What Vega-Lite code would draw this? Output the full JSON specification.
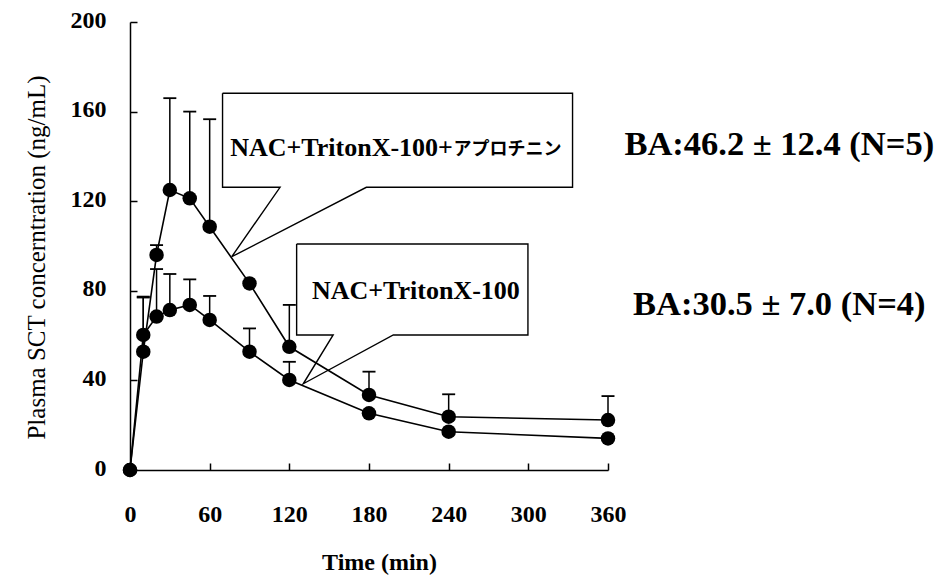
{
  "$schema": "https://vega.github.io/schema/vega-lite/v6.json",
  "width": 478,
  "height": 448,
  "autosize": "none",
  "padding": {"left": 130, "top": 22, "right": 332, "bottom": 108},
  "background": "white",
  "config": {"view": {"stroke": null}, "font": "Liberation Serif"},
  "datasets": {
    "pk": [
      {"series": "NAC+TritonX-100+Aprotinin", "t": 0, "v": 0, "top": null},
      {"series": "NAC+TritonX-100+Aprotinin", "t": 10, "v": 52.8, "top": 77},
      {"series": "NAC+TritonX-100+Aprotinin", "t": 20, "v": 96, "top": 100.4},
      {"series": "NAC+TritonX-100+Aprotinin", "t": 30, "v": 125, "top": 166},
      {"series": "NAC+TritonX-100+Aprotinin", "t": 45, "v": 121.3, "top": 160},
      {"series": "NAC+TritonX-100+Aprotinin", "t": 60, "v": 108.6, "top": 156.6},
      {"series": "NAC+TritonX-100+Aprotinin", "t": 90, "v": 83.3, "top": null},
      {"series": "NAC+TritonX-100+Aprotinin", "t": 120, "v": 55, "top": 73.7},
      {"series": "NAC+TritonX-100+Aprotinin", "t": 180, "v": 33.5, "top": 43.9},
      {"series": "NAC+TritonX-100+Aprotinin", "t": 240, "v": 23.8, "top": 33.8},
      {"series": "NAC+TritonX-100+Aprotinin", "t": 360, "v": 22.3, "top": 33},
      {"series": "NAC+TritonX-100", "t": 0, "v": 0, "top": null},
      {"series": "NAC+TritonX-100", "t": 10, "v": 60.3, "top": 77.4},
      {"series": "NAC+TritonX-100", "t": 20, "v": 68.5, "top": 89.7},
      {"series": "NAC+TritonX-100", "t": 30, "v": 71.4, "top": 87.5},
      {"series": "NAC+TritonX-100", "t": 45, "v": 73.7, "top": 85.1},
      {"series": "NAC+TritonX-100", "t": 60, "v": 67, "top": 77.7},
      {"series": "NAC+TritonX-100", "t": 90, "v": 52.8, "top": 63.2},
      {"series": "NAC+TritonX-100", "t": 120, "v": 40.2, "top": 48.3},
      {"series": "NAC+TritonX-100", "t": 180, "v": 25.3, "top": null},
      {"series": "NAC+TritonX-100", "t": 240, "v": 17.1, "top": null},
      {"series": "NAC+TritonX-100", "t": 360, "v": 14.1, "top": null}
    ],
    "boxes": [
      {"box": "b1", "i": 0, "t": 69.7, "v": 168.2},
      {"box": "b1", "i": 1, "t": 333.3, "v": 168.2},
      {"box": "b1", "i": 2, "t": 333.3, "v": 126.2},
      {"box": "b1", "i": 3, "t": 178, "v": 126.2},
      {"box": "b1", "i": 4, "t": 76.6, "v": 95.2},
      {"box": "b1", "i": 5, "t": 113, "v": 126.2},
      {"box": "b1", "i": 6, "t": 69.7, "v": 126.2},
      {"box": "b1", "i": 7, "t": 69.7, "v": 168.2},
      {"box": "b2", "i": 0, "t": 125.5, "v": 100.9},
      {"box": "b2", "i": 1, "t": 299.7, "v": 100.9},
      {"box": "b2", "i": 2, "t": 299.7, "v": 60.3},
      {"box": "b2", "i": 3, "t": 198.3, "v": 60.3},
      {"box": "b2", "i": 4, "t": 130.5, "v": 38.5},
      {"box": "b2", "i": 5, "t": 153, "v": 60.3},
      {"box": "b2", "i": 6, "t": 125.5, "v": 60.3},
      {"box": "b2", "i": 7, "t": 125.5, "v": 100.9}
    ],
    "latin1": [
      {"t": 243.2, "v": 143.8, "label": "NAC+TritonX-100+"}
    ],
    "latin2": [
      {"t": 215.3, "v": 79.9, "label": "NAC+TritonX-100"}
    ],
    "kanalabels": [
      {"t": 243.6, "v": 143.0, "label": "アプロチニン"}
    ],
    "ba": [
      {"t": 489, "v": 145, "label": "BA:46.2 ± 12.4 (N=5)"},
      {"t": 489, "v": 73.5, "label": "BA:30.5 ± 7.0 (N=4)"}
    ]
  },
  "encoding": {
    "x": {
      "field": "t", "type": "quantitative",
      "scale": {"domain": [0, 360], "nice": false, "zero": false},
      "axis": {
        "values": [0, 60, 120, 180, 240, 300, 360],
        "grid": false, "labelFlush": false,
        "domainColor": "black", "domainWidth": 1.5,
        "tickColor": "black", "tickWidth": 1.5, "tickSize": -7,
        "labelFont": "Liberation Serif", "labelFontWeight": "bold", "labelFontSize": 24, "labelColor": "black",
        "labelPadding": 39,
        "title": "Time (min)", "titleFont": "Liberation Serif", "titleFontWeight": "bold", "titleFontSize": 24, "titleColor": "black",
        "titlePadding": 24, "titleX": 249
      }
    },
    "y": {
      "field": "v", "type": "quantitative",
      "scale": {"domain": [0, 200], "nice": false, "zero": false},
      "axis": {
        "values": [0, 40, 80, 120, 160, 200],
        "grid": false,
        "domainColor": "black", "domainWidth": 1.5,
        "tickColor": "black", "tickWidth": 1.5, "tickSize": -7,
        "labelFont": "Liberation Serif", "labelFontWeight": "bold", "labelFontSize": 24, "labelColor": "black",
        "labelPadding": 31, "labelOffset": -2,
        "title": "Plasma SCT concerntration (ng/mL)", "titleFont": "Liberation Serif", "titleFontWeight": "normal", "titleFontSize": 25, "titleColor": "black",
        "titlePadding": 21, "titleY": 235
      }
    }
  },
  "layer": [
    {
      "data": {"name": "boxes"},
      "mark": {"type": "line", "color": "black", "strokeWidth": 1.4},
      "encoding": {"detail": {"field": "box"}, "order": {"field": "i", "type": "quantitative"}}
    },
    {
      "data": {"name": "pk"},
      "transform": [{"filter": "datum.top != null"}],
      "mark": {"type": "rule", "color": "black", "strokeWidth": 1.5},
      "encoding": {"y2": {"field": "top"}}
    },
    {
      "data": {"name": "pk"},
      "transform": [{"filter": "datum.top != null"}],
      "mark": {"type": "tick", "orient": "horizontal", "color": "black", "size": 13, "thickness": 1.8, "opacity": 1},
      "encoding": {"y": {"field": "top", "type": "quantitative"}}
    },
    {
      "data": {"name": "pk"},
      "mark": {"type": "line", "color": "black", "strokeWidth": 1.6},
      "encoding": {"detail": {"field": "series"}}
    },
    {
      "data": {"name": "pk"},
      "mark": {"type": "circle", "color": "black", "size": 210, "opacity": 1}
    },
    {
      "data": {"name": "latin1"},
      "mark": {"type": "text", "font": "Liberation Serif", "fontWeight": "bold", "fontSize": 26, "color": "black", "align": "right", "baseline": "middle"},
      "encoding": {"text": {"field": "label"}}
    },
    {
      "data": {"name": "latin2"},
      "mark": {"type": "text", "font": "Liberation Serif", "fontWeight": "bold", "fontSize": 26, "color": "black", "align": "center", "baseline": "middle"},
      "encoding": {"text": {"field": "label"}}
    },
    {
      "data": {"name": "kanalabels"},
      "mark": {"type": "text", "font": "Noto Sans CJK JP", "fontWeight": "bold", "fontSize": 18, "color": "black", "align": "left", "baseline": "middle"},
      "encoding": {"text": {"field": "label"}}
    },
    {
      "data": {"name": "ba"},
      "mark": {"type": "text", "font": "Liberation Serif", "fontWeight": "bold", "fontSize": 34.5, "color": "black", "align": "center", "baseline": "middle"},
      "encoding": {"text": {"field": "label"}}
    }
  ]
}
